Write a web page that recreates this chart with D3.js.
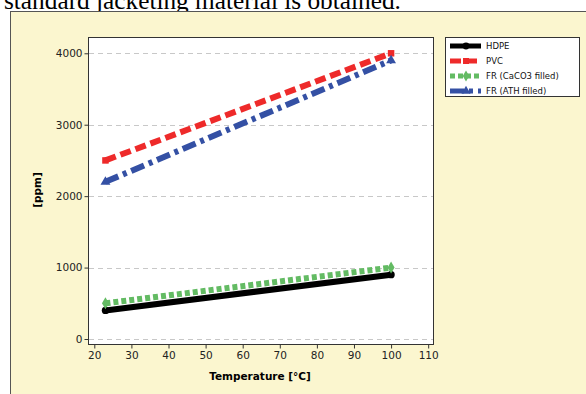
<!DOCTYPE html>
<html>
<head>
<meta charset="utf-8">
<script src="https://cdn.jsdelivr.net/npm/d3@7"></script>
<style>
  body { margin: 0; background: #fff; }
  svg { display: block; }
</style>
</head>
<body>
<div id="chart"></div>
<script>
// datos
var temps = [23, 100];
var hdpe = [400, 900];
var pvc = [2500, 4000];
var frCaco3 = [500, 1000];
var frAth = [2200, 3900];
var seriesNames = ['HDPE', 'PVC', 'FR (CaCO3 filled)', 'FR (ATH filled)'];
var xTicks = [20, 30, 40, 50, 60, 70, 80, 90, 100, 110];
var yTicks = [0, 1000, 2000, 3000, 4000];

var width = 586, height = 394;
var svg = d3.select('#chart').append('svg').attr('width', width).attr('height', height);

// texto del documento (cortado arriba, la caja tapa los descendentes)
svg.append('text')
    .attr('x', 4).attr('y', 8.5)
    .attr('font-family', 'Liberation Serif, Times New Roman, serif')
    .attr('font-size', 25.3)
    .attr('fill', '#000')
    .text('standard jacketing material is obtained.');

// caja amarilla
svg.append('rect')
    .attr('x', 10.5).attr('y', 11.5)
    .attr('width', 600).attr('height', 400)
    .attr('fill', '#fbf6cf')
    .attr('stroke', '#555');

var plot = { left: 88, top: 37, right: 433, bottom: 344 };

var x = d3.scaleLinear().domain([18.3, 111.3]).range([plot.left, plot.right]);
var y = d3.scaleLinear().domain([-70, 4228]).range([plot.bottom, plot.top]);

svg.append('rect')
    .attr('x', plot.left + 0.5).attr('y', plot.top + 0.5)
    .attr('width', plot.right - plot.left).attr('height', plot.bottom - plot.top)
    .attr('fill', '#fff')
    .attr('stroke', '#333');

// lineas de grilla
svg.append('g').selectAll('line').data(yTicks).enter().append('line')
    .attr('x1', plot.left + 1).attr('x2', plot.right)
    .attr('y1', function (d) { return Math.round(y(d)) + 0.5; })
    .attr('y2', function (d) { return Math.round(y(d)) + 0.5; })
    .attr('stroke', '#c8c8c8')
    .attr('stroke-dasharray', '5,4');

var font = 'DejaVu Sans, Verdana, sans-serif';

var gx = svg.append('g')
    .attr('transform', 'translate(0,' + (plot.bottom + 0.5) + ')')
    .call(d3.axisBottom(x).tickValues(xTicks).tickSize(4).tickSizeOuter(0));
var gy = svg.append('g')
    .attr('transform', 'translate(' + (plot.left + 0.5) + ',0)')
    .call(d3.axisLeft(y).tickValues(yTicks).tickSize(4).tickSizeOuter(0).tickFormat(d3.format('d')));
[gx, gy].forEach(function (g) {
    g.select('.domain').remove();
    g.selectAll('.tick line').attr('stroke', '#333');
    g.selectAll('.tick text')
        .attr('font-family', font)
        .attr('font-size', 10.5)
        .attr('fill', '#222');
});
gy.selectAll('.tick text').attr('x', -6);
gx.selectAll('.tick text').attr('y', 7);

svg.append('text')
    .attr('x', 260).attr('y', 380)
    .attr('text-anchor', 'middle')
    .attr('font-family', font)
    .attr('font-size', 10.5)
    .attr('font-weight', 'bold')
    .text('Temperature [°C]');

svg.append('text')
    .attr('transform', 'translate(41,190) rotate(-90)')
    .attr('text-anchor', 'middle')
    .attr('font-family', font)
    .attr('font-size', 10.5)
    .attr('font-weight', 'bold')
    .text('[ppm]');

// series
var series = [
    { name: seriesNames[0], values: hdpe, color: '#000000', dash: null, symbol: d3.symbolCircle },
    { name: seriesNames[1], values: pvc, color: '#ee2a2a', dash: '11,5', symbol: d3.symbolSquare },
    { name: seriesNames[2], values: frCaco3, color: '#63bb63', dash: '5,3', symbol: d3.symbolDiamond },
    { name: seriesNames[3], values: frAth, color: '#3450a4', dash: '14,5,4,5', symbol: d3.symbolTriangle }
];

var line = d3.line()
    .x(function (d) { return x(d[0]); })
    .y(function (d) { return y(d[1]); });

series.forEach(function (s) {
    var pts = temps.map(function (t, i) { return [t, s.values[i]]; });
    svg.append('path')
        .attr('d', line(pts))
        .attr('fill', 'none')
        .attr('stroke', s.color)
        .attr('stroke-width', 6)
        .attr('stroke-dasharray', s.dash);
    svg.append('g').selectAll('path').data(pts).enter().append('path')
        .attr('d', d3.symbol().type(s.symbol).size(42))
        .attr('transform', function (d) { return 'translate(' + x(d[0]) + ',' + y(d[1]) + ')'; })
        .attr('fill', s.color);
});

// leyenda
var leg = svg.append('g');
leg.append('rect')
    .attr('x', 445.5).attr('y', 37.5)
    .attr('width', 134).attr('height', 59)
    .attr('fill', '#fff')
    .attr('stroke', '#333');
series.forEach(function (s, i) {
    var ly = 46 + i * 15;
    leg.append('line')
        .attr('x1', 450).attr('x2', 481)
        .attr('y1', ly).attr('y2', ly)
        .attr('stroke', s.color)
        .attr('stroke-width', 5)
        .attr('stroke-dasharray', s.dash);
    leg.append('path')
        .attr('d', d3.symbol().type(s.symbol).size(36))
        .attr('transform', 'translate(466,' + ly + ')')
        .attr('fill', s.color);
    leg.append('text')
        .attr('x', 486).attr('y', ly + 3)
        .attr('font-family', font)
        .attr('font-size', 8.5)
        .attr('fill', '#111')
        .text(s.name);
});
</script>
</body>
</html>
